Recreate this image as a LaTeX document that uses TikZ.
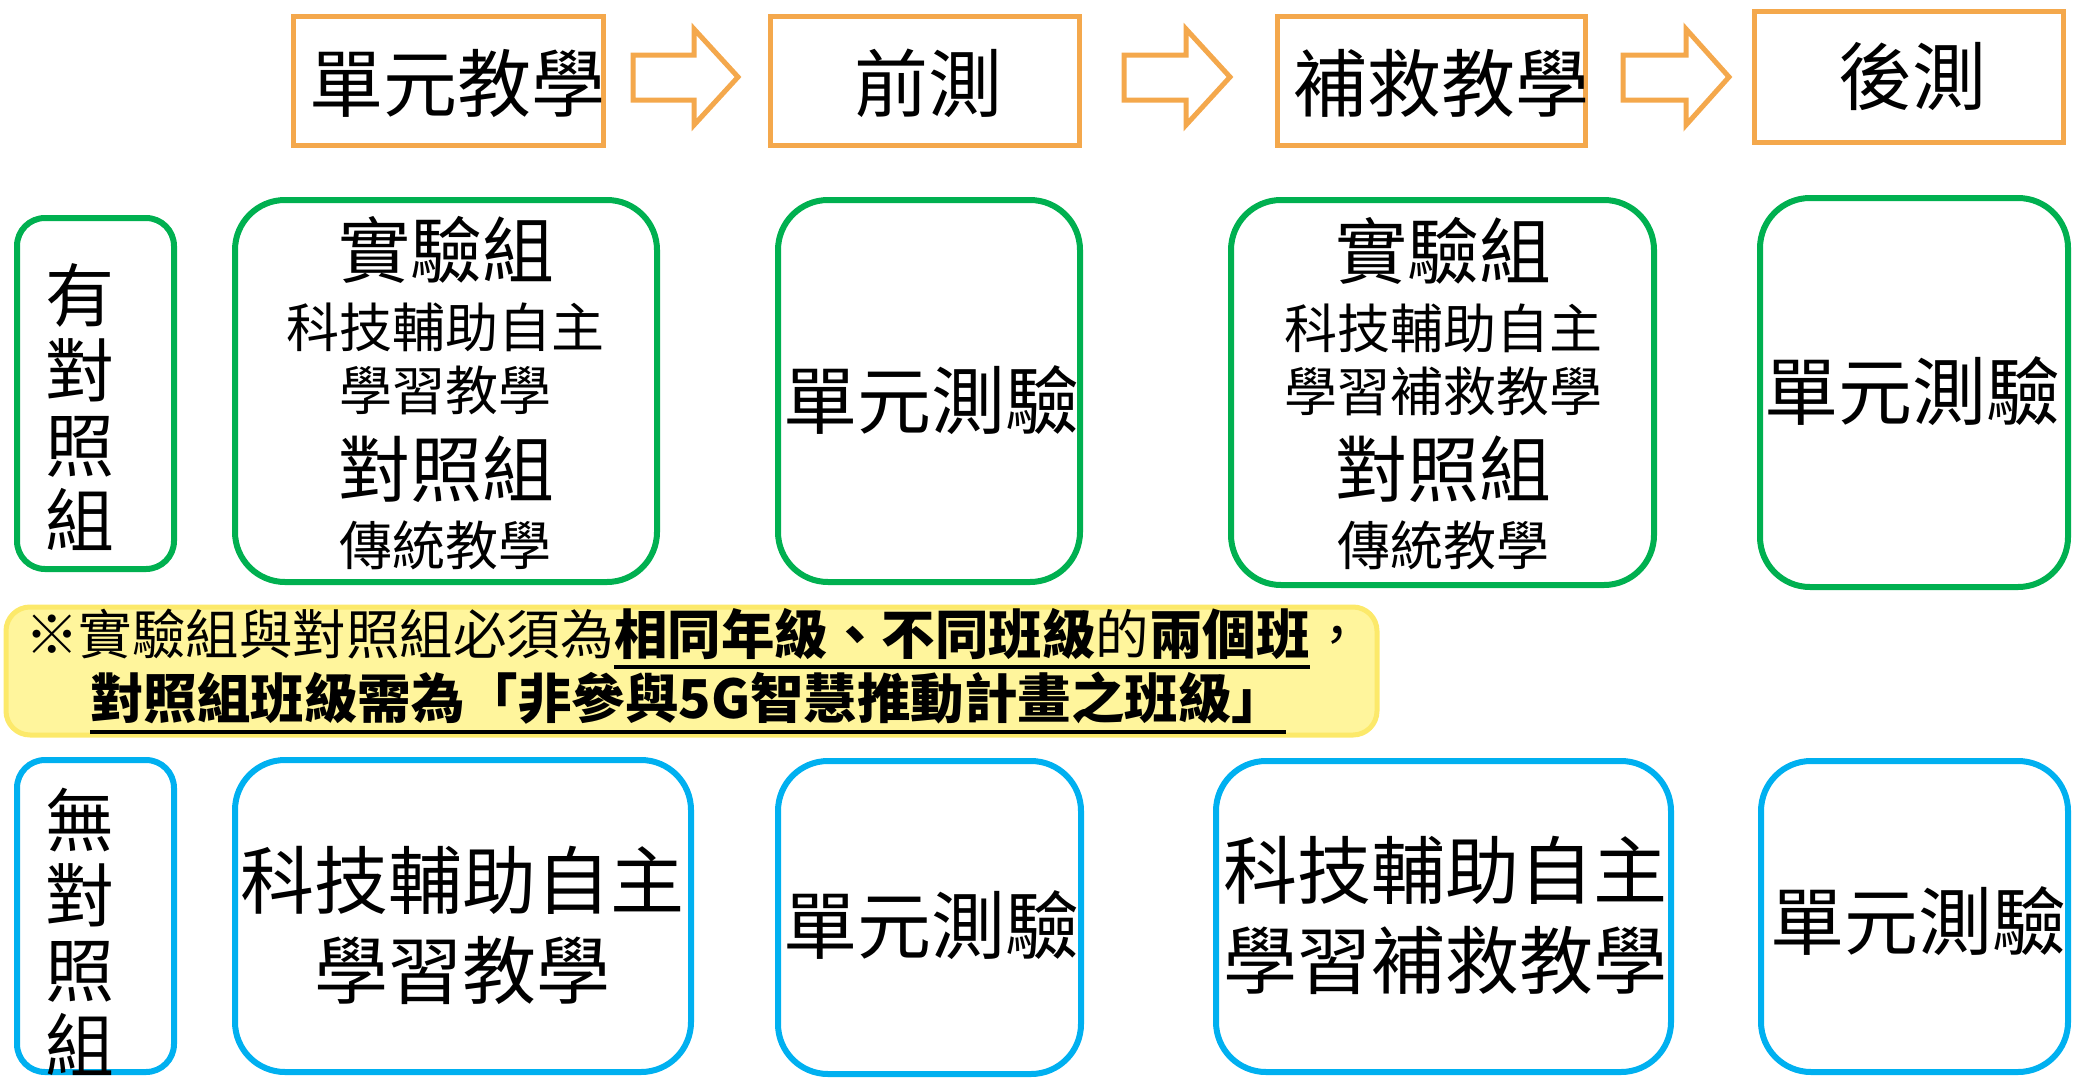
\documentclass[tikz,border=0pt]{standalone}
\usepackage{fontspec}
\setmainfont{Noto Sans CJK TC}
\usepackage{xcolor}
\usetikzlibrary{calc}

\definecolor{stageorange}{HTML}{F4A84C}
\definecolor{ctrlgreen}{HTML}{00B050}
\definecolor{noctrlblue}{HTML}{00B0F0}
\definecolor{notefill}{HTML}{FFF59C}
\definecolor{noteline}{HTML}{FCE96A}

\tikzset{
  stagebox/.style={draw=stageorange,line width=5pt},
  flowarrow/.style={draw=stageorange,line width=5pt,fill=white},
  ctrlbox/.style={draw=ctrlgreen,line width=6pt,rounded corners=50pt},
  noctrlbox/.style={draw=noctrlblue,line width=6pt,rounded corners=50pt},
  sidebox/.style={rounded corners=28pt},
  notebox/.style={draw=noteline,fill=notefill,line width=5pt,rounded corners=24pt},
  stagetext/.style={inner sep=0pt,font=\fontsize{74}{80}\selectfont},
  headtext/.style={inner sep=0pt,font=\fontsize{72}{76}\selectfont},
  subtext/.style={inner sep=0pt,font=\fontsize{53}{60}\selectfont},
  bigtext/.style={inner sep=0pt,align=center,font=\fontsize{74}{90}\selectfont},
  sidetext/.style={inner sep=0pt,align=center,font=\fontsize{69}{75}\selectfont},
  notetext/.style={inner sep=0pt,anchor=base west,font=\fontsize{53.5}{60}\selectfont},
  underline/.style={line width=4.5pt}
}

\begin{document}
\begin{tikzpicture}[x=1pt,y=-1pt]
  \useasboundingbox (0,0) rectangle (2087,1079);

  % Stages
  \draw[stagebox] (293,16) rectangle (603,145);
  \draw[stagebox] (770,16) rectangle (1079,145);
  \draw[stagebox] (1277,16) rectangle (1585,145);
  \draw[stagebox] (1754,11) rectangle (2063,142);
  \node[stagetext] (unitteach) at (457,83) {單元教學};
  \node[stagetext] (pretest) at (928,83) {前測};
  \node[stagetext] (remedial) at (1441,83) {補救教學};
  \node[stagetext] (posttest) at (1912,76) {後測};

  % Arrows between stages
  \draw[flowarrow] (633,55) -- (694,55) -- (694,29) -- (738,77) -- (694,125) -- (694,100) -- (633,100) -- cycle;
  \draw[flowarrow] (1124,55) -- (1186,55) -- (1186,29) -- (1230,77) -- (1186,125) -- (1186,100) -- (1124,100) -- cycle;
  \draw[flowarrow] (1623,55) -- (1686,55) -- (1686,29) -- (1729,77) -- (1686,125) -- (1686,100) -- (1623,100) -- cycle;

  % With control group
  \draw[ctrlbox,sidebox] (17,218) rectangle (174,569);
  \draw[ctrlbox] (235,200) rectangle (657,582);
  \draw[ctrlbox] (778,200) rectangle (1080,582);
  \draw[ctrlbox] (1231,200) rectangle (1654,585);
  \draw[ctrlbox] (1760,198) rectangle (2068,587);
  \node[sidetext] (ctrlside) at (80,407) {有\\對\\照\\組};
  \node[headtext] (expA) at (446,250) {實驗組};
  \node[subtext] (expAtxt1) at (445,327) {科技輔助自主};
  \node[subtext] (expAtxt2) at (445,390) {學習教學};
  \node[headtext] (ctrlA) at (446,469) {對照組};
  \node[subtext] (ctrlAtxt) at (445,545) {傳統教學};
  \node[stagetext] (ctrlpre) at (931,400) {單元測驗};
  \node[headtext] (expB) at (1443,251) {實驗組};
  \node[subtext] (expBtxt1) at (1443,328) {科技輔助自主};
  \node[subtext] (expBtxt2) at (1443,391) {學習補救教學};
  \node[headtext] (ctrlB) at (1443,469) {對照組};
  \node[subtext] (ctrlBtxt) at (1443,545) {傳統教學};
  \node[stagetext] (ctrlpost) at (1912,391) {單元測驗};

  % Note
  \draw[notebox] (6,607) rectangle (1377,735);
  \node[notetext] (note1a) at (25,654) {※實驗組與對照組必須為};
  \node[notetext] (note1b) at (note1a.base east) {{\bfseries 相同年級、不同班級}的{\bfseries 兩個班}};
  \node[notetext] (note1c) at (note1b.base east) {，};
  \node[notetext] (note2) at (90,718) {\bfseries 對照組班級需為「非參與5G智慧推動計畫之班級」};
  \draw[underline] ($(note1b.base west)+(0,13)$) -- ($(note1b.base east)+(0,13)$);
  \draw[underline] ($(note2.base west)+(0,14)$) -- ($(note2.base east)+(0,14)$);

  % Without control group
  \draw[noctrlbox,sidebox] (17,760) rectangle (174,1072);
  \draw[noctrlbox] (235,760) rectangle (691,1072);
  \draw[noctrlbox] (778,761) rectangle (1081,1074);
  \draw[noctrlbox] (1216,761) rectangle (1671,1072);
  \draw[noctrlbox] (1761,761) rectangle (2068,1072);
  \node[sidetext] (noctrlside) at (80,932) {無\\對\\照\\組};
  \node[bigtext] (selfteach) at (462,925) {科技輔助自主\\學習教學};
  \node[stagetext] (noctrlpre) at (931,925) {單元測驗};
  \node[bigtext] (selfremedial) at (1445,915) {科技輔助自主\\學習補救教學};
  \node[stagetext] (noctrlpost) at (1918,921) {單元測驗};
\end{tikzpicture}
\end{document}
